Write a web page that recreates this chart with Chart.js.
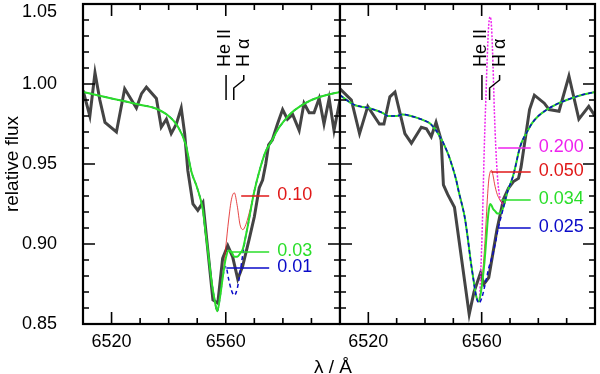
<!DOCTYPE html>
<html lang="en">
<head>
<meta charset="UTF-8">
<title>H alpha line profiles</title>
<style>
  html, body { margin: 0; padding: 0; background: #fff; }
  body { width: 600px; height: 374px; position: relative; overflow: hidden; font-family: "Liberation Sans", Arial, sans-serif; }
  canvas { position: absolute; top: 0; }
  #leftChart { left: 0; }
  #rightChart { left: 330px; }
  #xtitle { position: absolute; left: 283px; width: 100px; top: 356px; line-height: 22px; text-align: center; font-size: 19px; color: #000; }
</style>
</head>
<body>
<canvas id="leftChart" width="340" height="374"></canvas>
<canvas id="rightChart" width="270" height="374"></canvas>
<div id="xtitle">λ / Å</div>

<script src="https://cdn.jsdelivr.net/npm/chart.js"></script>
<script>
// --- data ---
const xTicks = [6520, 6560];
const yTicks = [0.85, 0.90, 0.95, 1.00, 1.05];

// observed spectrum, left panel
const specLeftWl = [6510, 6512.4, 6514.2, 6515.9, 6517.7, 6521.7, 6524.6, 6527, 6528.7, 6530.5, 6532.2, 6535.7, 6537.4, 6539.2, 6540.9, 6542.7, 6544.4, 6545.6, 6546.7, 6548.5, 6550.2, 6552, 6555.5, 6557.2, 6558.9, 6560.7, 6562.4, 6564.2, 6565.9, 6568.2, 6570, 6571.7, 6572.9, 6574, 6575, 6576.3, 6578.1, 6579.9, 6581.6, 6583.4, 6585.7, 6587.4, 6589.2, 6590.9, 6592.7, 6594.4, 6596.2, 6597.9, 6600];
const specLeftFlux = [0.996, 0.980, 1.007, 0.990, 0.976, 0.970, 0.997, 0.990, 0.985, 0.994, 0.998, 0.991, 0.973, 0.978, 0.969, 0.975, 0.985, 0.969, 0.946, 0.925, 0.921, 0.926, 0.865, 0.863, 0.891, 0.899, 0.892, 0.878, 0.886, 0.903, 0.917, 0.935, 0.940, 0.950, 0.962, 0.965, 0.975, 0.984, 0.978, 0.981, 0.971, 0.988, 0.982, 0.982, 0.991, 0.975, 0.991, 0.971, 0.990];

// observed spectrum, right panel
const specRightWl = [6510, 6514, 6516.9, 6519.8, 6523.9, 6525.5, 6527.6, 6529.4, 6532.9, 6535.2, 6538.7, 6540.5, 6542.2, 6543.9, 6545.7, 6546.5, 6548, 6550.4, 6555.6, 6557.3, 6559.6, 6560.8, 6562.5, 6565.4, 6567.7, 6569.5, 6571.2, 6573, 6573.9, 6576.9, 6578.6, 6582.1, 6583.8, 6587.3, 6590.8, 6594.3, 6597.8, 6600];
const specRightFlux = [0.997, 0.990, 0.969, 0.986, 0.975, 0.975, 0.992, 0.995, 0.969, 0.963, 0.973, 0.972, 0.967, 0.976, 0.965, 0.937, 0.931, 0.923, 0.856, 0.870, 0.882, 0.875, 0.879, 0.909, 0.928, 0.935, 0.939, 0.941, 0.948, 0.984, 0.993, 0.988, 0.984, 0.983, 1.005, 0.978, 0.986, 0.980];

// model profiles, left panel
const modelLeftWl = [6510, 6515, 6520, 6525, 6530, 6535, 6540, 6543, 6546, 6548, 6550, 6552, 6553, 6554, 6555, 6556, 6557, 6558, 6559, 6560, 6561, 6562, 6563, 6564, 6565, 6566, 6567, 6568, 6569, 6570, 6572, 6574, 6576, 6578, 6580, 6583, 6586, 6590, 6595, 6600];
const modelL003 = [0.995, 0.993, 0.991, 0.989, 0.987, 0.985, 0.980, 0.974, 0.962, 0.945, 0.935, 0.921, 0.906, 0.892, 0.877, 0.866, 0.858, 0.867, 0.880, 0.891, 0.896, 0.895, 0.892, 0.892, 0.894, 0.897, 0.905, 0.914, 0.924, 0.933, 0.947, 0.958, 0.964, 0.971, 0.976, 0.982, 0.986, 0.990, 0.993, 0.995];
const modelL001 = [0.995, 0.993, 0.991, 0.989, 0.987, 0.985, 0.980, 0.974, 0.962, 0.945, 0.935, 0.921, 0.906, 0.892, 0.877, 0.866, 0.858, 0.867, 0.880, 0.886, 0.878, 0.871, 0.868, 0.872, 0.882, 0.894, 0.905, 0.914, 0.924, 0.933, 0.947, 0.958, 0.964, 0.971, 0.976, 0.982, 0.986, 0.990, 0.993, 0.995];
const modelL010 = [0.995, 0.993, 0.991, 0.989, 0.987, 0.985, 0.980, 0.974, 0.962, 0.945, 0.935, 0.921, 0.906, 0.892, 0.877, 0.866, 0.858, 0.867, 0.880, 0.898, 0.915, 0.928, 0.932, 0.924, 0.912, 0.909, 0.912, 0.918, 0.925, 0.933, 0.947, 0.958, 0.964, 0.971, 0.976, 0.982, 0.986, 0.990, 0.993, 0.995];

// model profiles, right panel
const modelRightWl = [6510, 6515, 6520, 6525, 6527, 6530, 6532, 6535, 6537, 6540, 6542, 6545, 6548, 6549, 6551, 6552, 6553, 6554, 6555, 6556, 6557, 6558, 6559, 6560, 6561, 6561.5, 6562, 6562.5, 6563, 6563.5, 6564, 6564.5, 6565, 6565.5, 6566, 6567, 6568, 6569, 6570, 6571, 6572, 6573, 6574, 6576, 6578, 6580, 6583, 6586, 6590, 6595, 6600];
const modelR0025 = [0.993, 0.987, 0.985, 0.982, 0.980, 0.980, 0.981, 0.980, 0.979, 0.977, 0.975, 0.968, 0.957, 0.952, 0.940, 0.932, 0.925, 0.917, 0.905, 0.891, 0.879, 0.868, 0.863, 0.866, 0.873, 0.877, 0.881, 0.885, 0.888, 0.891, 0.894, 0.898, 0.902, 0.907, 0.911, 0.918, 0.925, 0.932, 0.937, 0.942, 0.949, 0.957, 0.963, 0.970, 0.976, 0.980, 0.984, 0.987, 0.990, 0.993, 0.995];
const modelR0034 = [0.993, 0.987, 0.985, 0.982, 0.980, 0.980, 0.981, 0.980, 0.979, 0.977, 0.975, 0.968, 0.957, 0.952, 0.940, 0.932, 0.925, 0.917, 0.905, 0.891, 0.879, 0.868, 0.864, 0.873, 0.889, 0.900, 0.912, 0.921, 0.925, 0.924, 0.922, 0.921, 0.920, 0.919, 0.919, 0.920, 0.925, 0.932, 0.937, 0.942, 0.949, 0.957, 0.963, 0.970, 0.976, 0.980, 0.984, 0.987, 0.990, 0.993, 0.995];
const modelR0050 = [0.993, 0.987, 0.985, 0.982, 0.980, 0.980, 0.981, 0.980, 0.979, 0.977, 0.975, 0.968, 0.957, 0.952, 0.940, 0.932, 0.925, 0.917, 0.905, 0.891, 0.879, 0.868, 0.864, 0.875, 0.897, 0.912, 0.928, 0.940, 0.945, 0.946, 0.943, 0.938, 0.934, 0.931, 0.929, 0.926, 0.925, 0.932, 0.937, 0.942, 0.949, 0.957, 0.963, 0.970, 0.976, 0.980, 0.984, 0.987, 0.990, 0.993, 0.995];
const modelR0200 = [0.993, 0.987, 0.985, 0.982, 0.980, 0.980, 0.981, 0.980, 0.979, 0.977, 0.975, 0.968, 0.957, 0.952, 0.940, 0.932, 0.925, 0.917, 0.905, 0.891, 0.879, 0.868, 0.864, 0.898, 0.965, 0.992, 1.018, 1.037, 1.042, 1.035, 1.012, 0.982, 0.960, 0.944, 0.934, 0.926, 0.925, 0.932, 0.937, 0.942, 0.949, 0.957, 0.963, 0.970, 0.976, 0.980, 0.984, 0.987, 0.990, 0.993, 0.995];

// rest wavelengths of the marked lines
const lineIds = ['He II', 'H α'];
const lineWl = [6560.1, 6562.8];

// model labels: text, flux level of the leader, where the leader starts and ends
const tagsLeft  = { text: ['0.10', '0.03', '0.01'], y: [0.930, 0.895, 0.885], from: [6565.4, 6561.3, 6560.2], to: [6575.2, 6575.2, 6575.2] };
const tagsRight = { text: ['0.200', '0.050', '0.034', '0.025'], y: [0.960, 0.945, 0.9275, 0.910], from: [6565.8, 6563.4, 6566.9, 6565.8], to: [6577.3, 6577.3, 6577.3, 6577.3] };

// --- styling ---
const FONT = '"Liberation Sans", Arial, sans-serif';
const C = { spec: '#444444', green: '#2ade2a', blue: '#0a0ac8', red: '#e01818', magenta: '#ee22ee' };
const colorsLeft = [C.red, C.green, C.blue];
const colorsRight = [C.magenta, C.red, C.green, C.blue];

function pts(wl, f) { return wl.map((w, i) => ({ x: w, y: f[i] })); }

// "order": higher numbers are painted first (underneath)
function spec(wl, f) {
    return { data: pts(wl, f), borderColor: C.spec, borderWidth: 3, pointRadius: 0, tension: 0, order: 10 };
}
function model(wl, f, color, width, dash, order) {
    return { data: pts(wl, f), borderColor: color, borderWidth: width, borderDash: dash || [], pointRadius: 0, cubicInterpolationMode: 'monotone', order };
}

// frame + inward ticks on all four sides, then the line ids and model labels
const decor = {
    id: 'decor',
    beforeDraw(chart) {
        // push the top y label (1.05) down so it is not cut off
        const y = chart.scales.y;
        if (y.options.display) {
            y.getLabelItems().forEach(it => {
                if (it.options && it.options.translation)
                    it.options.translation[1] = Math.max(it.options.translation[1], chart.chartArea.top + 8);
            });
        }
    },
    afterDatasetsDraw(chart, args, opts) {
        const { ctx, chartArea: a, scales: { x, y } } = chart;
        ctx.save();
        ctx.strokeStyle = '#000';
        ctx.lineWidth = 1.6;
        ctx.beginPath();
        for (let w = 6510; w <= 6600; w += 10) {
            const px = x.getPixelForValue(w);
            const len = xTicks.includes(w) ? 12 : 6;
            ctx.moveTo(px, a.bottom); ctx.lineTo(px, a.bottom - len);
            ctx.moveTo(px, a.top); ctx.lineTo(px, a.top + len);
        }
        for (let i = 85; i <= 105; i++) {
            const py = y.getPixelForValue(i / 100);
            const len = i % 5 === 0 ? 12 : 6;
            ctx.moveTo(a.left, py); ctx.lineTo(a.left + len, py);
            ctx.moveTo(a.right, py); ctx.lineTo(a.right - len, py);
        }
        ctx.stroke();
        ctx.lineWidth = 2.2;
        ctx.strokeRect(a.left, a.top, a.right - a.left, a.bottom - a.top);

        // He II / H alpha markers
        const xHe = x.getPixelForValue(lineWl[0]);
        const xHa = x.getPixelForValue(lineWl[1]);
        ctx.lineWidth = 1.5;
        ctx.beginPath();
        ctx.moveTo(xHe, a.top + 71); ctx.lineTo(xHe, a.top + 96);
        ctx.moveTo(xHa + 10, a.top + 71); ctx.lineTo(xHa + 10, a.top + 76);
        ctx.lineTo(xHa, a.top + 84); ctx.lineTo(xHa, a.top + 96);
        ctx.stroke();
        ctx.fillStyle = '#000';
        ctx.font = '18px ' + FONT;
        ctx.textAlign = 'left';
        ctx.textBaseline = 'middle';
        [[lineIds[0], xHe - 1], [lineIds[1], xHa + 10]].forEach(([t, px]) => {
            ctx.save();
            ctx.translate(px, a.top + 63);
            ctx.rotate(-Math.PI / 2);
            ctx.fillText(t, 0, 0);
            ctx.restore();
        });

        // model labels with leader lines
        const tags = opts.tags;
        tags.text.forEach((t, i) => {
            const py = y.getPixelForValue(tags.y[i]);
            const x0 = x.getPixelForValue(tags.from[i]);
            const x1 = x.getPixelForValue(tags.to[i]);
            ctx.strokeStyle = opts.colors[i];
            ctx.lineWidth = 1.5;
            ctx.beginPath();
            ctx.moveTo(x0, py); ctx.lineTo(x1, py);
            ctx.stroke();
            ctx.fillStyle = opts.colors[i];
            ctx.fillText(t, x1 + 8, py - 1);
        });
        ctx.restore();
    }
};

function xAxis() {
    return {
        type: 'linear', min: 6510, max: 6600,
        grid: { display: false, drawTicks: false }, border: { display: false },
        afterBuildTicks: s => { s.ticks = xTicks.map(v => ({ value: v })); },
        afterFit: s => { s.height = 50; s.paddingLeft = 0; s.paddingRight = 0; },
        ticks: { color: '#000', font: { family: FONT, size: 18 }, padding: 7, maxRotation: 0, callback: v => String(v) }
    };
}

function yAxis(show) {
    return {
        display: show, min: 0.85, max: 1.05,
        grid: { display: false, drawTicks: false }, border: { display: false },
        afterBuildTicks: s => { s.ticks = yTicks.map(v => ({ value: v })); },
        afterFit: s => { if (show) s.width = 83; s.paddingTop = 0; s.paddingBottom = 0; },
        ticks: { color: '#000', font: { family: FONT, size: 18 }, padding: 26, callback: v => v.toFixed(2) },
        title: { display: show, text: 'relative flux', color: '#000', font: { family: FONT, size: 19 }, padding: { top: 1, bottom: 0 } }
    };
}

function baseOptions(pad, tags, colors) {
    return {
        responsive: false, animation: false,
        layout: { padding: pad },
        plugins: { legend: { display: false }, tooltip: { enabled: false }, decor: { tags, colors } },
        scales: { x: xAxis(), y: yAxis(pad.left === 0) }
    };
}

new Chart(document.getElementById('leftChart'), {
    type: 'line',
    data: {
        datasets: [
            spec(specLeftWl, specLeftFlux),
            model(modelLeftWl, modelL001, C.blue, 1.5, [4, 3], 3),
            model(modelLeftWl, modelL010, C.red, 0.8, null, 2),
            model(modelLeftWl, modelL003, C.green, 2, null, 1)
        ]
    },
    options: baseOptions({ left: 0, right: 0, top: 4, bottom: 0 }, tagsLeft, colorsLeft),
    plugins: [decor]
});

new Chart(document.getElementById('rightChart'), {
    type: 'line',
    data: {
        datasets: [
            spec(specRightWl, specRightFlux),
            model(modelRightWl, modelR0200, C.magenta, 1.5, [2, 1.5], 4),
            model(modelRightWl, modelR0050, C.red, 0.8, null, 3),
            model(modelRightWl, modelR0034, C.green, 2, null, 2),
            model(modelRightWl, modelR0025, C.blue, 1.5, [4, 3], 1)
        ]
    },
    options: baseOptions({ left: 10, right: 5, top: 4, bottom: 0 }, tagsRight, colorsRight),
    plugins: [decor]
});
</script>
</body>
</html>
